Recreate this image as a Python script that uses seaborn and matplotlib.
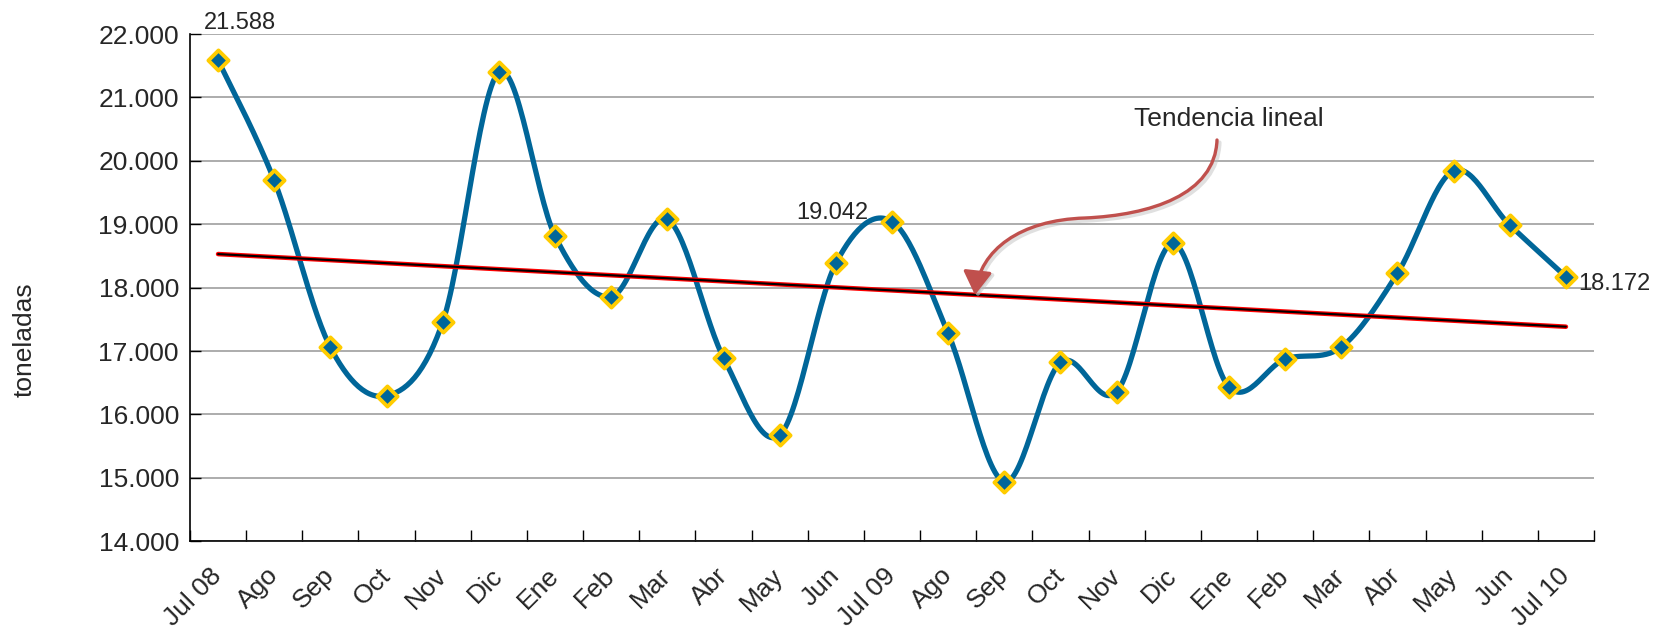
import numpy as np
import pandas as pd
import matplotlib
matplotlib.use("Agg")
import matplotlib.pyplot as plt
import seaborn as sns
from matplotlib.path import Path
from matplotlib.patches import FancyArrowPatch
from matplotlib.transforms import offset_copy
from matplotlib.ticker import FuncFormatter

# ---------------- data ----------------
categories = ["Jul 08", "Ago", "Sep", "Oct", "Nov", "Dic", "Ene", "Feb", "Mar",
              "Abr", "May", "Jun", "Jul 09", "Ago", "Sep", "Oct", "Nov", "Dic",
              "Ene", "Feb", "Mar", "Abr", "May", "Jun", "Jul 10"]
toneladas = [21588, 19690, 17058, 16295, 17457, 21396, 18814, 17857, 19077,
             16895, 15675, 18383, 19042, 17279, 14939, 16821, 16358, 18699,
             16432, 16874, 17063, 18225, 19844, 18987, 18172]
y_ticks = [14000, 15000, 16000, 17000, 18000, 19000, 20000, 21000, 22000]
labeled_idx = [0, 12, 24]
y_label = "toneladas"
trend_label = "Tendencia lineal"

BLUE = "#006699"
YELLOW = "#FFCC00"
ARROW = "#C0504D"

sns.set_theme(style="white")
plt.rcParams["font.family"] = ["Liberation Sans", "DejaVu Sans"]

idx = np.arange(len(toneladas), dtype=float)
df = pd.DataFrame({"x": idx, "y": toneladas})


def smooth(x, y, n=30):
    P = np.column_stack([x, y]).astype(float)
    Pe = np.vstack([P[0], P, P[-1]])
    out = []
    for i in range(len(P) - 1):
        p0, p1, p2, p3 = Pe[i], Pe[i + 1], Pe[i + 2], Pe[i + 3]
        c1 = p1 + (p2 - p0) / 6
        c2 = p2 - (p3 - p1) / 6
        t = np.linspace(0, 1, n, endpoint=(i == len(P) - 2))[:, None]
        b = (1 - t) ** 3 * p1 + 3 * (1 - t) ** 2 * t * c1 + 3 * (1 - t) * t ** 2 * c2 + t ** 3 * p2
        out.append(b)
    return np.vstack(out)


curve = smooth(idx, toneladas)
dfc = pd.DataFrame({"x": curve[:, 0], "y": curve[:, 1]})

fig = plt.figure(figsize=(16.56, 6.35), dpi=100)
ax = fig.add_axes([190 / 1656, 1 - 541.3 / 635, 1404 / 1656, 507.3 / 635])

sns.lineplot(data=dfc, x="x", y="y", sort=False, estimator=None, color=BLUE,
             linewidth=3.8, ax=ax, zorder=3)
sns.regplot(data=df, x="x", y="y", scatter=False, ci=None, truncate=True, ax=ax,
            line_kws=dict(color="#FF0000", linewidth=3.3, zorder=4))
sns.regplot(data=df, x="x", y="y", scatter=False, ci=None, truncate=True, ax=ax,
            line_kws=dict(color="black", linewidth=1.5, zorder=4))
sns.scatterplot(data=df, x="x", y="y", marker="D", s=105, color=BLUE,
                edgecolor=YELLOW, linewidth=2.8, ax=ax, zorder=5)

ax.set_xlim(-0.5, len(toneladas) - 0.5)
ax.set_ylim(y_ticks[0], y_ticks[-1])
ax.set_yticks(y_ticks)
ax.yaxis.set_major_formatter(FuncFormatter(lambda v, p: f"{int(v):,}".replace(",", ".")))
ax.set_xticks(idx)
ax.set_xticks(np.arange(-0.5, len(toneladas), 1.0), minor=True)
ax.set_xticklabels(categories, rotation=45, ha="right", va="center",
                   rotation_mode="anchor")
ax.tick_params(axis="x", which="major", length=0, pad=22, labelsize=19)
ax.tick_params(axis="x", which="minor", length=8, width=1, direction="in",
               color="black", bottom=True)
ax.tick_params(axis="y", length=8, width=1, direction="in", left=True,
               labelsize=19, pad=8, color="black")
ax.set_xlabel("")
ax.set_ylabel("")
ax.grid(axis="y", color="#A6A6A6", linewidth=1.3)
ax.grid(axis="x", visible=False)
for s in ["top", "right"]:
    ax.spines[s].set_visible(False)
for s in ["left", "bottom"]:
    ax.spines[s].set_color("black")
    ax.spines[s].set_linewidth(1.2)

# data labels
fmt = lambda v: f"{v:,}".replace(",", ".")
ax.annotate(fmt(toneladas[0]), (idx[0], toneladas[0]), xytext=(16, 27),
            textcoords="offset points", ha="center", va="center", fontsize=17,
            annotation_clip=False)
ax.annotate(fmt(toneladas[12]), (idx[12], toneladas[12]), xytext=(-17, 6),
            textcoords="offset points", ha="right", va="center", fontsize=17)
ax.annotate(fmt(toneladas[24]), (idx[24], toneladas[24]), xytext=(9, -5),
            textcoords="offset points", ha="left", va="center", fontsize=17,
            annotation_clip=False)

fig.text(25 / 1656, 1 - 340 / 635, y_label, rotation=90, ha="center",
         va="center", fontsize=19)

# trend annotation
def fx(px):
    return (px - 190) / 1404


def fy(py):
    return (541.3 - py) / 507.3


pts = [(1217, 140), (1215, 195), (1150, 215), (1085, 218),
       (1020, 220), (980, 250), (975, 295)]
verts = [(fx(a), fy(b)) for a, b in pts]
codes = [Path.MOVETO] + [Path.CURVE4] * 6
astyle = "-|>,head_length=0.65,head_width=0.4"
shadow_tr = offset_copy(ax.transAxes, fig=fig, x=2.5, y=-2.5, units="dots")
shadow = FancyArrowPatch(path=Path(verts, codes), arrowstyle=astyle,
                         mutation_scale=22, color="#BBBBBB", alpha=0.45,
                         linewidth=3.0, transform=shadow_tr, zorder=5.5)
ax.add_patch(shadow)
arrow = FancyArrowPatch(path=Path(verts, codes), arrowstyle=astyle,
                        mutation_scale=22, color=ARROW, linewidth=2.4,
                        transform=ax.transAxes, zorder=6)
ax.add_patch(arrow)
ax.text(fx(1134), fy(119), trend_label, transform=ax.transAxes, ha="left",
        va="center", fontsize=19)

fig.savefig("out.png", dpi=100)
